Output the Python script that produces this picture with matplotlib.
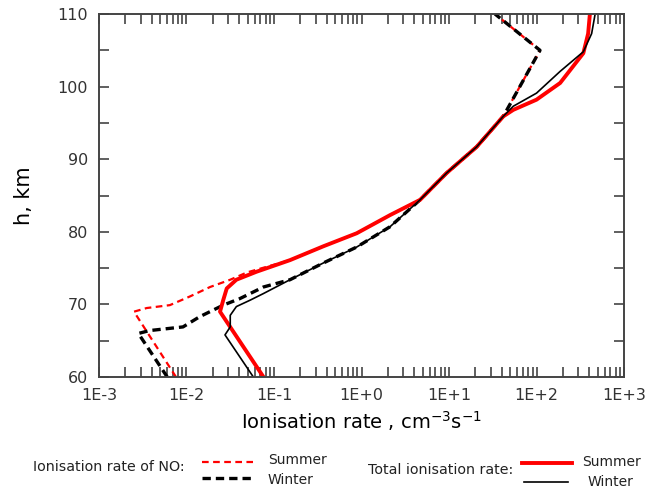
import numpy as np
import matplotlib.pyplot as plt
from matplotlib.ticker import FixedLocator, LogLocator, NullFormatter

# heights (km) and log10 of ionisation rate (cm^-3 s^-1)
h_no_summer = [60, 69.0, 69.5, 69.9, 71.1, 72.4, 73.4, 74.4, 76.1, 78.0, 79.8, 82.3, 84.4, 88.1, 91.7, 95.9, 105.0, 110]
q_no_summer = [-2.12, -2.60, -2.455, -2.19, -1.96, -1.73, -1.50, -1.31, -0.817, -0.437, -0.055, 0.326, 0.669, 0.973, 1.316, 1.62, 2.04, 1.526]

h_no_winter = [60, 66.0, 66.4, 66.9, 68.3, 69.9, 70.8, 72.4, 73.4, 75.7, 77.9, 80.7, 84.4, 88.1, 91.7, 95.9, 105.0, 110]
q_no_winter = [-2.22, -2.55, -2.42, -2.04, -1.85, -1.58, -1.39, -1.12, -0.817, -0.437, -0.055, 0.326, 0.669, 0.973, 1.316, 1.62, 2.04, 1.526]

h_tot_summer = [60, 69.0, 70.6, 72.2, 73.4, 74.5, 76.1, 78.0, 79.8, 82.3, 84.4, 88.1, 91.7, 95.9, 96.8, 98.2, 100.5, 104.6, 107.3, 110]
q_tot_summer = [-1.12, -1.617, -1.58, -1.54, -1.43, -1.20, -0.817, -0.437, -0.055, 0.326, 0.669, 0.973, 1.316, 1.62, 1.735, 2.0, 2.27, 2.535, 2.59, 2.61]

h_tot_winter = [60, 65.8, 66.9, 68.5, 69.7, 70.6, 71.5, 73.4, 75.7, 77.9, 80.7, 84.4, 88.1, 91.7, 95.9, 97.3, 99.1, 102.1, 104.8, 107.3, 110]
q_tot_winter = [-1.236, -1.56, -1.50, -1.50, -1.43, -1.27, -1.12, -0.817, -0.437, -0.055, 0.326, 0.669, 0.973, 1.316, 1.62, 1.735, 2.0, 2.27, 2.535, 2.63, 2.67]

x_ticks = [1e-3, 1e-2, 1e-1, 1e0, 1e1, 1e2, 1e3]
x_labels = ['1E-3', '1E-2', '1E-1', '1E+0', '1E+1', '1E+2', '1E+3']

fig = plt.figure(figsize=(6.53, 4.9), dpi=100)
ax = fig.add_axes([0.1516, 0.2306, 0.804, 0.7408])

ax.plot(10 ** np.array(q_no_summer), h_no_summer, color='red', lw=1.6, ls=(0, (3, 2)))
ax.plot(10 ** np.array(q_no_winter), h_no_winter, color='black', lw=2.4, ls=(0, (2.5, 1.5)))
ax.plot(10 ** np.array(q_tot_summer), h_tot_summer, color='red', lw=2.8)
ax.plot(10 ** np.array(q_tot_winter), h_tot_winter, color='black', lw=1.2)

ax.set_xscale('log')
ax.set_xlim(1e-3, 1e3)
ax.set_ylim(60, 110)
ax.set_xticks(x_ticks)
ax.set_xticklabels(x_labels)
ax.xaxis.set_minor_locator(LogLocator(base=10, subs=np.arange(2, 10)))
ax.xaxis.set_minor_formatter(NullFormatter())
ax.set_yticks(np.arange(60, 111, 10))
ax.yaxis.set_minor_locator(FixedLocator(np.arange(65, 110, 10)))

ax.tick_params(which='both', direction='in', top=True, right=True, length=7,
               width=1.2, color='#444444', labelsize=11.5, labelcolor='#333333')
ax.tick_params(axis='x', pad=8)
ax.tick_params(axis='y', pad=8)
for s in ax.spines.values():
    s.set_color('#444444')
    s.set_linewidth(1.4)

ax.set_xlabel('Ionisation rate , cm$^{-3}$s$^{-1}$', fontsize=14, labelpad=4)
ax.set_ylabel('h, km', fontsize=15, labelpad=17)

# legend at the bottom, drawn in figure coordinates
fig.text(0.051, 0.047, 'Ionisation rate of NO:', fontsize=10.3, va='center', color='#222222')
fig.lines.append(plt.Line2D([0.309, 0.388], [0.057, 0.057], transform=fig.transFigure,
                            color='red', lw=1.6, ls=(0, (3, 2))))
fig.lines.append(plt.Line2D([0.309, 0.388], [0.0245, 0.0245], transform=fig.transFigure,
                            color='black', lw=2.4, ls=(0, (2.5, 1.5))))
fig.text(0.41, 0.061, 'Summer', fontsize=10, va='center', color='#222222')
fig.text(0.41, 0.02, 'Winter', fontsize=10, va='center', color='#222222')

fig.text(0.563, 0.041, 'Total ionisation rate:', fontsize=10.3, va='center', color='#222222')
fig.lines.append(plt.Line2D([0.799, 0.876], [0.055, 0.055], transform=fig.transFigure,
                            color='red', lw=2.8))
fig.lines.append(plt.Line2D([0.802, 0.870], [0.016, 0.016], transform=fig.transFigure,
                            color='black', lw=1.2))
fig.text(0.891, 0.057, 'Summer', fontsize=10, va='center', color='#222222')
fig.text(0.899, 0.016, 'Winter', fontsize=10, va='center', color='#222222')

fig.savefig('out.png', dpi=100)
